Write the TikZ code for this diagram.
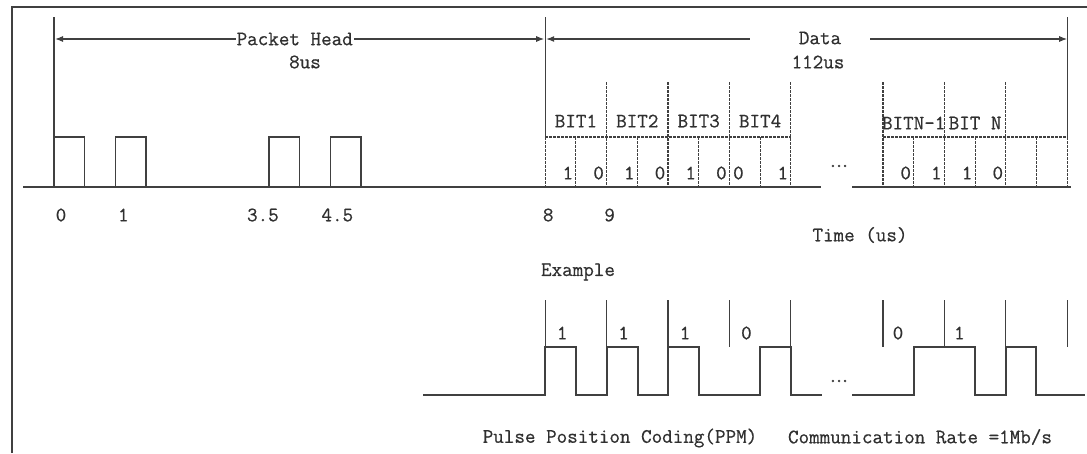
\documentclass[tikz,border=0pt]{standalone}
\usepackage{fontspec}
\usetikzlibrary{calc,arrows.meta}
\newfontfamily\diagfont{Latin Modern Mono}[FakeBold=0.6]
\definecolor{wave}{HTML}{404040}
\definecolor{txt}{HTML}{303030}
\newcommand{\tu}{61.4}
\newcommand{\hi}{137}
\newcommand{\lo}{187}
\newcommand{\bhi}{347}
\newcommand{\blo}{395}
\newcommand{\hpulse}[1]{\draw[sig] ($(O)+(#1*\tu,\lo)$) |- ($(O)+(#1*\tu+0.5*\tu,\hi)$) -- ($(O)+(#1*\tu+0.5*\tu,\lo)$);}
\newcommand{\gapdots}{.\kern-4.5pt.\kern-4.5pt.}

\begin{document}
\begin{tikzpicture}[x=1pt,y=-1pt,
    sig/.style={line width=1.3pt,wave},
    dsh/.style={line width=1.1pt,wave,dash pattern=on 2.5pt off 1.5pt},
    lbl/.style={text=txt,font=\diagfont\fontsize{20.5}{23}\selectfont,inner sep=0pt},
    dim/.style={line width=1.1pt,wave}]
    \useasboundingbox (0,0) rectangle (1087,453);
    \draw[line width=1.2pt,black!75] (12,453) -- (12,7) -- (1087,7);

    \coordinate (O) at (54,0);
    \coordinate (E) at ($(O)+(8*\tu,0)$);
    \coordinate (G) at (883,0);
    \coordinate (F) at ($(G)+(3*\tu,0)$);

    % packet head
    \draw[sig] (23,\lo) -- (821,\lo);
    \draw[sig] (852,\lo) -- (1071,\lo);
    \foreach \t in {0,1,3.5,4.5} \hpulse{\t}
    \draw[sig] ($(O)+(0,17)$) -- ($(O)+(0,\hi)$);
    \draw[sig] ($(E)+(0,17)$) -- ($(E)+(0,\hi)$);
    \draw[sig] ($(F)+(0,17)$) -- ($(F)+(0,\hi)$);

    \draw[dim,{Latex[length=8pt,width=6pt]}-{Latex[length=8pt,width=6pt]}] ($(O)+(1,39)$) -- ($(E)+(-1,39)$)
        node[lbl,pos=0.49,fill=white,inner sep=1pt] (ph) {Packet Head};
    \node[lbl] (phus) at (305,62) {8us};
    \draw[dim,{Latex[length=8pt,width=6pt]}-] ($(E)+(1,39)$) -- (750,39);
    \draw[dim,-{Latex[length=8pt,width=6pt]}] (870,39) -- ($(F)+(0,39)$);
    \node[lbl] (data) at (820,38) {Data};
    \node[lbl] (dataus) at (818,62) {112us};

    % data bits
    \draw[dsh] ($(E)+(0,\hi)$) -- ($(E)+(4*\tu,\hi)$);
    \draw[dsh] ($(E)+(0,\hi)$) -- ($(E)+(0,\lo)$);
    \foreach \k in {1,...,4} \draw[dsh] ($(E)+(\k*\tu,82)$) -- ($(E)+(\k*\tu,\lo)$);
    \foreach \k in {0.5,1.5,2.5,3.5} \draw[dsh] ($(E)+(\k*\tu,\hi)$) -- ($(E)+(\k*\tu,\lo)$);
    \foreach \k in {1,...,4} \node[lbl] (bit\k) at ($(E)+(\k*\tu-0.5*\tu,121)$) {BIT\k};
    \foreach \h/\v in {1/1,2/0,3/1,4/0,5/1,6/0,8/1} \node[lbl] (tv\h) at ($(E)+(\h*0.5*\tu-8,173)$) {\v};
    \node[lbl] (tv7) at ($(E)+(3*\tu+9,173)$) {0};

    \draw[dsh] ($(G)+(0,\hi)$) -- ($(F)+(0,\hi)$);
    \draw[dsh] ($(F)+(0,\hi)$) -- ($(F)+(0,\lo)$);
    \foreach \k in {0,1,2} \draw[dsh] ($(G)+(\k*\tu,82)$) -- ($(G)+(\k*\tu,\lo)$);
    \foreach \k in {0.5,1.5,2.5} \draw[dsh] ($(G)+(\k*\tu,\hi)$) -- ($(G)+(\k*\tu,\lo)$);
    \node[lbl] (bitn1) at ($(G)+(0.5*\tu,123)$) {BITN-1};
    \node[lbl] (bitn) at ($(G)+(1.5*\tu,123)$) {BIT N};
    \foreach \h/\v in {1/0,2/1,3/1,4/0} \node[lbl] (rv\h) at ($(G)+(\h*0.5*\tu-8,173)$) {\v};
    \node[lbl] (dots) at (839,166) {\gapdots};

    \foreach \x/\l [count=\i] in {7/0,\tu+8/1,3.5*\tu-6/3.5,4.5*\tu+7/4.5,8*\tu+3/8,9*\tu+3/9}
        \node[lbl] (t\i) at ($(O)+(\x,215)$) {\l};
    \node[lbl] (time) at (860,235) {Time (us)};

    % example
    \node[lbl] (ex) at (578,272) {Example};
    \draw[sig] (423,\blo) -| (545,\bhi) -| (576,\blo) -| (607,\bhi) -| (638,\blo) -| (668,\bhi) -| (699,\blo)
        -| (760,\bhi) -| (791,\blo) -- (822,\blo);
    \draw[sig] (852,\blo) -| (914,\bhi) -| (975,\blo) -| (1006,\bhi) -| (1036,\blo) -- (1085,\blo);
    \foreach \k in {0,...,4} \draw[sig] ($(E)+(\k*\tu,300)$) -- ($(E)+(\k*\tu,\bhi)$);
    \foreach \k in {0,...,3} \draw[sig] ($(G)+(\k*\tu,300)$) -- ($(G)+(\k*\tu,\bhi)$);
    \foreach \k/\v in {0/1,1/1,2/1,3/0} \node[lbl] (ev\k) at ($(E)+(\k*\tu+17,333)$) {\v};
    \foreach \k/\v in {0/0,1/1} \node[lbl] (gv\k) at ($(G)+(\k*\tu+15,333)$) {\v};
    \node[lbl] (bdots) at (839,381) {\gapdots};

    \node[lbl] (ppm) at (620,438) {Pulse Position Coding(PPM)};
    \node[lbl] (rate) at (920,437) {Communication Rate =1Mb/s};
\end{tikzpicture}
\end{document}
